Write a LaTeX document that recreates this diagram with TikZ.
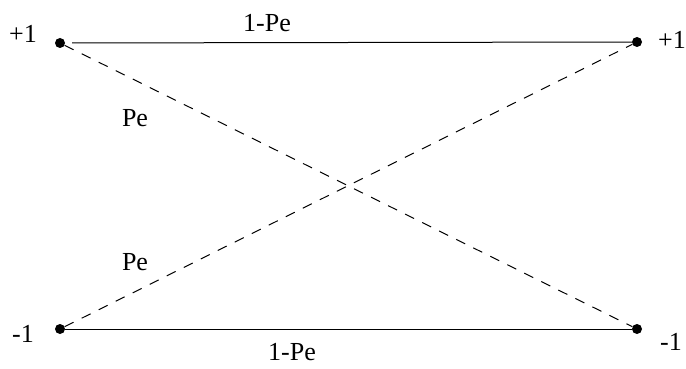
\documentclass[tikz,border=0pt]{standalone}
\usepackage{fontspec}
\setmainfont{Liberation Serif}
\usepackage{tikz}
\usetikzlibrary{positioning}

\begin{document}
\begin{tikzpicture}[x=1pt, y=-1pt,
    dotnode/.style={circle, fill=black, inner sep=0pt, minimum size=10pt},
    wire/.style={line width=1pt},
    crosswire/.style={line width=1pt, dash pattern=on 10pt off 9pt},
    lbl/.style={font=\fontsize{26}{30}\selectfont, inner sep=0pt, anchor=base}]
    \useasboundingbox (0,0) rectangle (686,369);
    % the four points
    \node[dotnode] (inA) at (60,43) {};
    \node[dotnode] (inB) at (60,329) {};
    \node[dotnode] (outA) at (637,42) {};
    \node[dotnode] (outB) at (637,329) {};
    % symbols
    \node[lbl] (inAlbl) at (23,43) {+1};
    \node[lbl] (inBlbl) at (23,342) {-1};
    \node[lbl] (outAlbl) at (672,49) {+1};
    \node[lbl] (outBlbl) at (671,350) {-1};
    % transitions
    \draw[wire, shorten <=7pt] (inA) -- (outA);
    \draw[wire] (inB) -- (outB);
    \draw[crosswire] (inA) -- (outB);
    \draw[crosswire] (inB) -- (outA);
    \node[lbl] (keepA) at (267,32) {1-Pe};
    \node[lbl] (keepB) at (292,360) {1-Pe};
    \node[lbl] (flipA) at (135,127) {Pe};
    \node[lbl] (flipB) at (135,270) {Pe};
\end{tikzpicture}
\end{document}
